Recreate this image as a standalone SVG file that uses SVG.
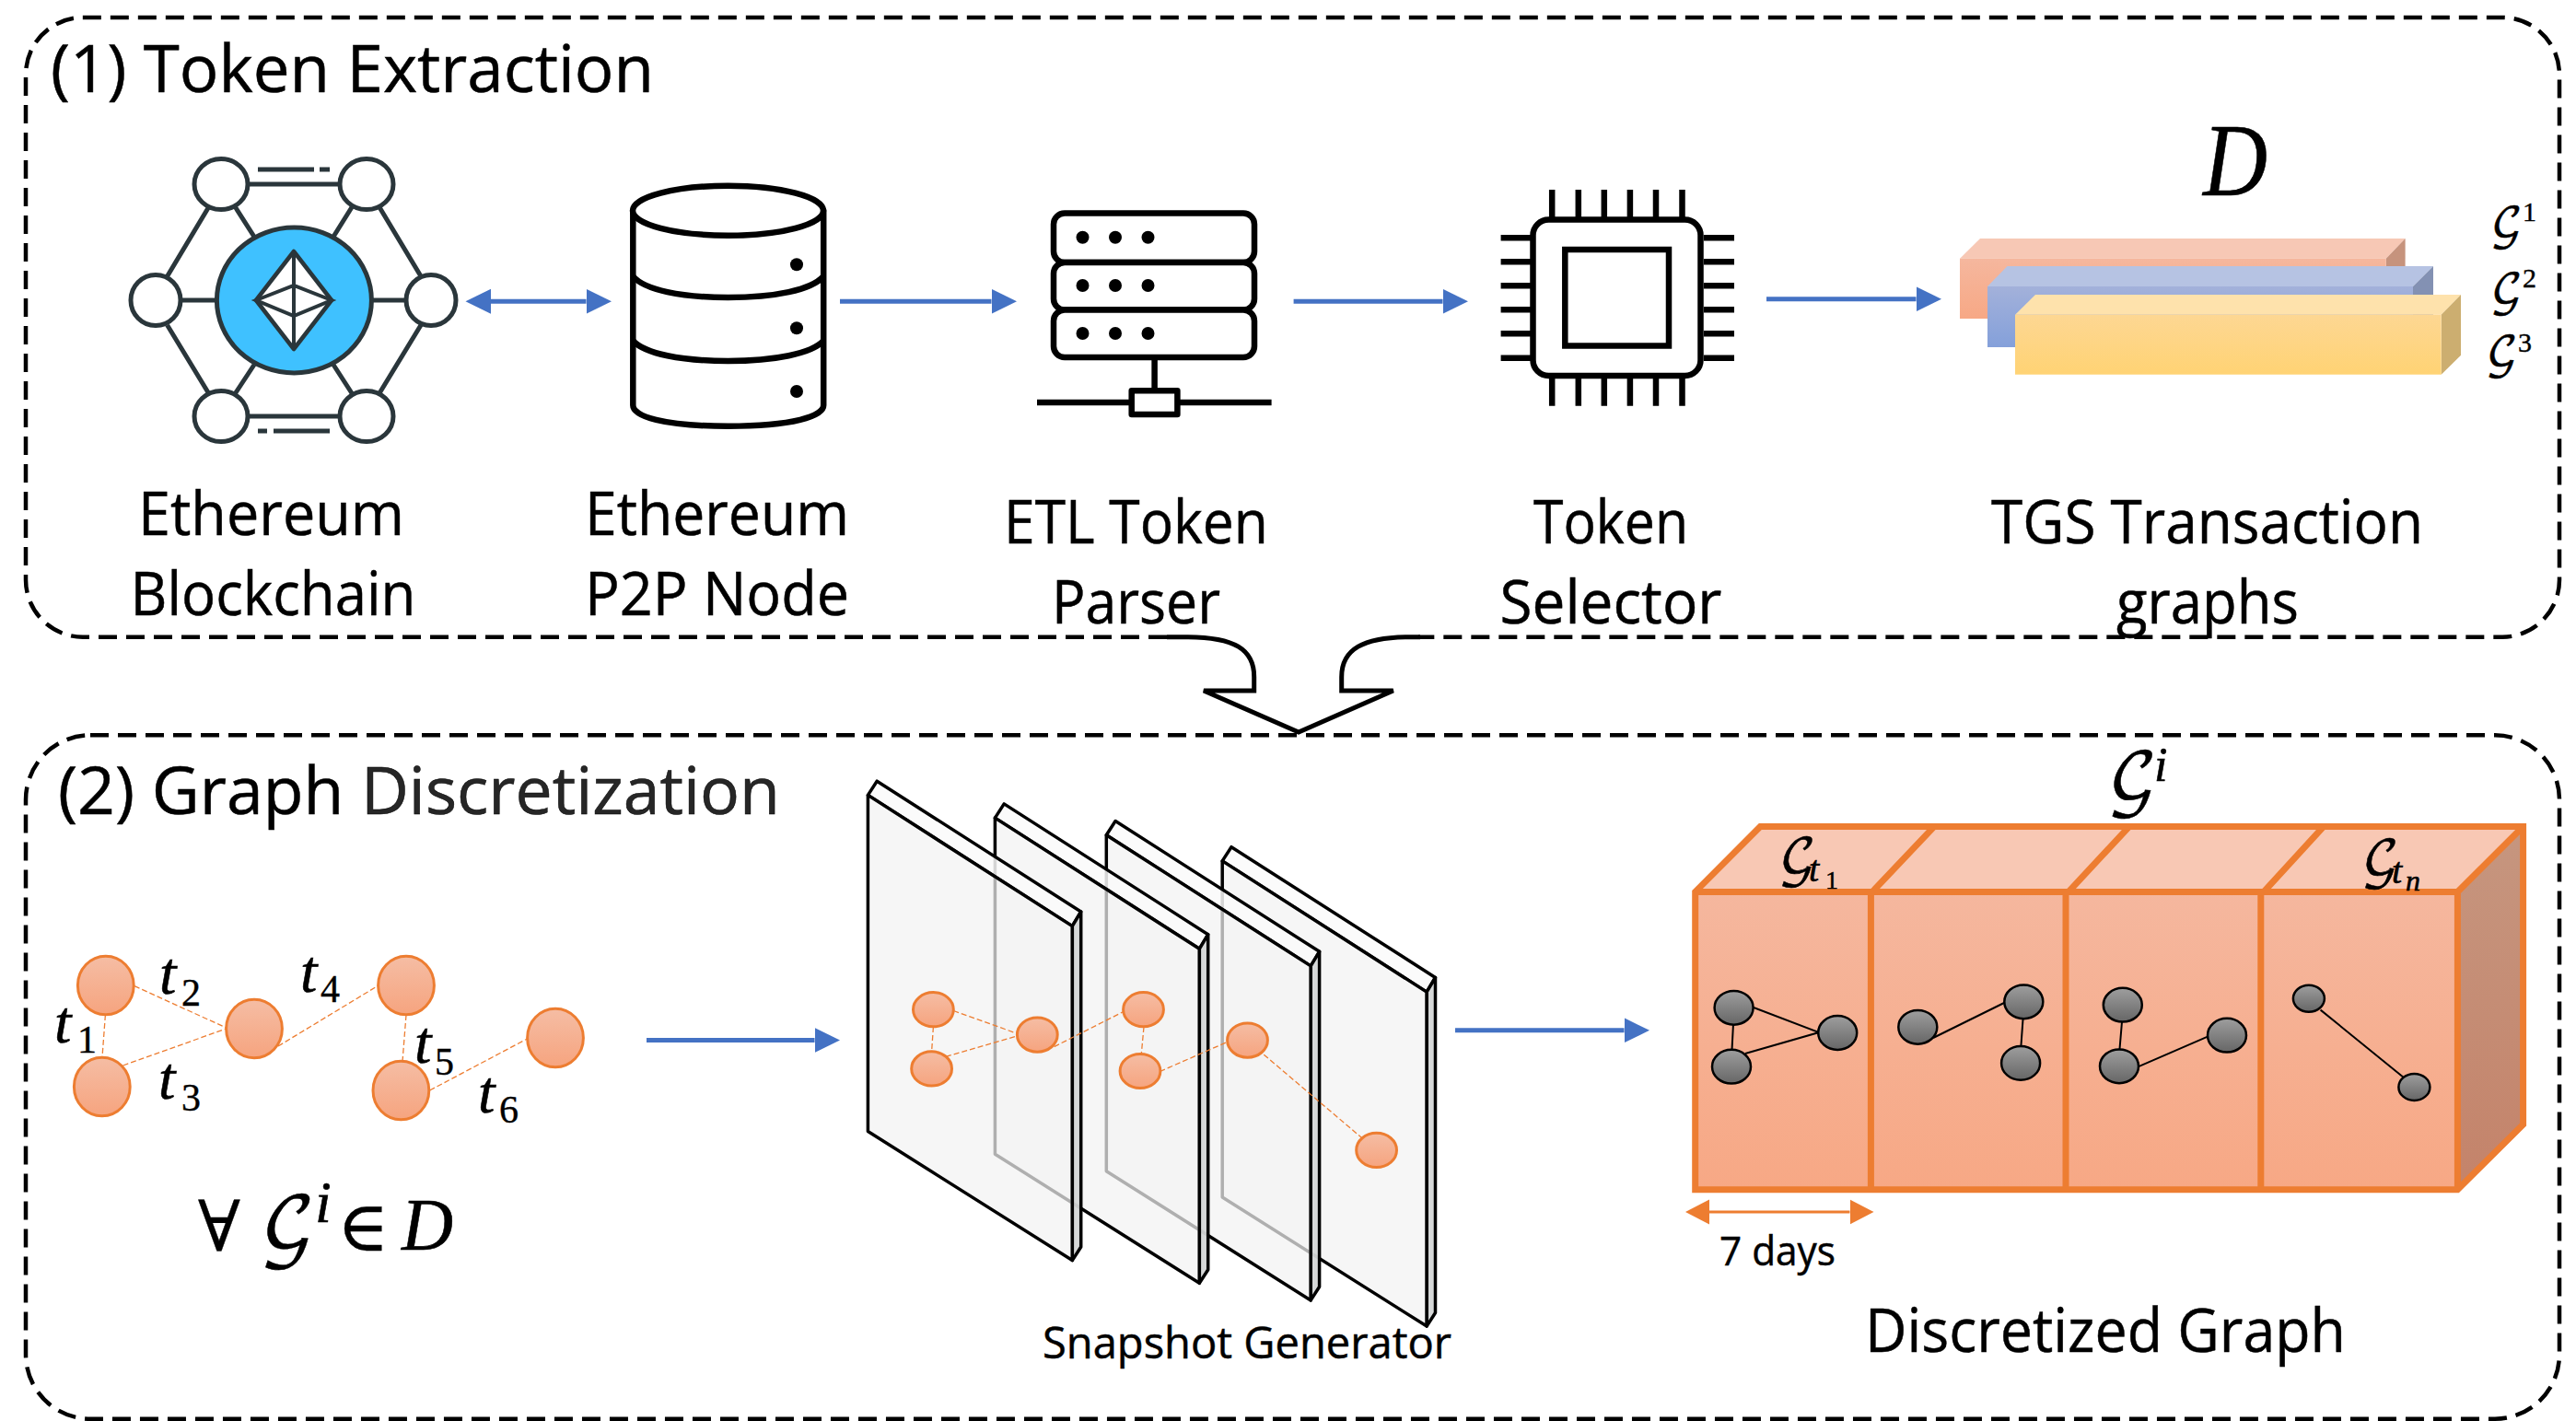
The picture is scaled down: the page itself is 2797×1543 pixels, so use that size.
<svg xmlns="http://www.w3.org/2000/svg" width="2797" height="1543" viewBox="0 0 2797 1543">
<style>
.lb{font-family:"Open Sans","Noto Sans","Liberation Sans",sans-serif;fill:#000;stroke:#000;stroke-width:.5}
.h{font-size:71px}.m{font-size:65px}
.mi{font-family:"Liberation Serif","DejaVu Serif",serif;font-style:italic;fill:#000;stroke:#000;stroke-width:.6}
.mu{font-family:"Liberation Serif","DejaVu Serif",serif;font-style:normal;fill:#000;stroke:#000;stroke-width:.4}
.sg{font-family:"DejaVu Math TeX Gyre","DejaVu Sans","Noto Sans",serif;fill:#000;stroke:#000;stroke-width:.5}
.box{fill:none;stroke:#000;stroke-width:4.5;stroke-dasharray:20 10}
.eth{stroke:#2a363b;stroke-width:5;fill:none}
.ethn{stroke:#2a363b;stroke-width:5;fill:#fff}
.ic{stroke:#000;stroke-width:6.5;fill:#fff;stroke-linejoin:round}
.icl{stroke:#000;stroke-width:6.5;fill:none}
.con{stroke:#4472C4;stroke-width:5;fill:none}
.dash{stroke:#ED7D31;stroke-width:1.3;stroke-dasharray:6 3;fill:none}
.on{fill:url(#og);stroke:#ED7D31;stroke-width:3}
.gn{fill:url(#gg);stroke:#000;stroke-width:2.5}
.ge{stroke:#000;stroke-width:2;fill:none}
.cube{stroke:#ED7D31;stroke-width:7;stroke-linejoin:miter}
</style>
<defs>
<linearGradient id="og" x1="0" y1="0" x2="0" y2="1"><stop offset="0" stop-color="#F5BDA4"/><stop offset="1" stop-color="#F6A47F"/></linearGradient>
<linearGradient id="gg" x1="0" y1="0" x2="0" y2="1"><stop offset="0" stop-color="#9E9E9E"/><stop offset="1" stop-color="#666"/></linearGradient>
<linearGradient id="pk" x1="0" y1="0" x2="0" y2="1"><stop offset="0" stop-color="#F5B79E"/><stop offset="1" stop-color="#F7A885"/></linearGradient>
<linearGradient id="bl" x1="0" y1="0" x2="0" y2="1"><stop offset="0" stop-color="#A3B1DA"/><stop offset="1" stop-color="#84A0DA"/></linearGradient>
<linearGradient id="ye" x1="0" y1="0" x2="0" y2="1"><stop offset="0" stop-color="#FDD793"/><stop offset="1" stop-color="#FFD374"/></linearGradient>
<linearGradient id="sd" x1="0" y1="0" x2="0" y2="1"><stop offset="0" stop-color="#C6967F"/><stop offset="1" stop-color="#C4836A"/></linearGradient>
<marker id="ah" markerUnits="userSpaceOnUse" markerWidth="28" markerHeight="28" refX="0" refY="14" orient="auto-start-reverse"><path d="M0 .5 27.5 14 0 27.5z" fill="#4472C4"/></marker>
<marker id="oh" markerUnits="userSpaceOnUse" markerWidth="27" markerHeight="28" refX="0" refY="14" orient="auto-start-reverse"><path d="M0 .5 26 14 0 27.5z" fill="#ED7D31"/></marker>
<g id="plane">
<path d="M942.4 863.4 952.2 848.2 1173.7 990 1164.3 1005.6z" fill="#fafafa" fill-opacity=".85" stroke="#000" stroke-width="3.5" stroke-linejoin="round"/>
<path d="M1164.3 1005.6 1173.7 990V1354L1164.3 1368.6z" fill="#d4d6d6" fill-opacity=".95" stroke="#000" stroke-width="3.5" stroke-linejoin="round"/>
<path d="M942.4 863.4 1164.3 1005.6V1368.6L942.4 1228.5z" fill="#f2f2f2" fill-opacity=".72" stroke="#000" stroke-width="3.5" stroke-linejoin="round"/>
</g>
</defs>

<g id="panel-1">
<path class="box" d="M1267 691.7H90A62 62 0 0 1 28 629.7V81A62 62 0 0 1 90 19H2717A62 62 0 0 1 2779 81V629.7A62 62 0 0 1 2717 691.7H1540"/>
<text class="lb h" x="55" y="100" textLength="655" lengthAdjust="spacingAndGlyphs">(1) Token Extraction</text>
</g>
<g id="panel-2">
<path class="box" d="M98 798.3H2709A70 70 0 0 1 2779 868.3V1470.7A70 70 0 0 1 2709 1540.7H98A70 70 0 0 1 28 1470.7V868.3A70 70 0 0 1 98 798.3z"/>
<text class="lb h" x="63" y="884" textLength="784" lengthAdjust="spacingAndGlyphs">(2) Graph <tspan fill="#262626">Discretization</tspan></text>
</g>

<g id="connectors">
<path id="flow-arrow" d="M1267 691.700H1290C1340 692 1361.700 705 1361.700 735V750H1307L1410 795 1512.700 750H1456.700V735C1456.700 705 1480 692 1530 691.700H1542" fill="none" stroke="#000" stroke-width="5" stroke-linejoin="miter"/>
<line class="con" x1="533" y1="327.3" x2="636.5" y2="327.3" marker-start="url(#ah)" marker-end="url(#ah)"/>
<line class="con" x1="912" y1="327.3" x2="1076.5" y2="327.3" marker-end="url(#ah)"/>
<line class="con" x1="1404.6" y1="327.3" x2="1566.5" y2="327.3" marker-end="url(#ah)"/>
<line class="con" x1="1918" y1="324.7" x2="2080.5" y2="324.7" marker-end="url(#ah)"/>
<line class="con" x1="702" y1="1129.5" x2="884.5" y2="1129.5" marker-end="url(#ah)"/>
<line class="con" x1="1580" y1="1118.8" x2="1763.5" y2="1118.8" marker-end="url(#ah)"/>
</g>

<g id="ethereum-blockchain">
<path class="eth" d="M240 200H398M240 452H398M226.500 225 181.600 300M412 225 457 300M181.600 353 226.500 427M412 427 457 353M255.600 225 276 257M382 225 362 257M276 396 255.600 427M362 396 382 427M197 326H234M404.600 326H439"/>
<path class="eth" d="M280 184H341M347 184H358M280 468H290M297 468H358" stroke-width="5.500"/>
<ellipse class="ethn" cx="240" cy="200" rx="29" ry="27.500"/><ellipse class="ethn" cx="398" cy="200" rx="29" ry="27.500"/>
<ellipse class="ethn" cx="169" cy="326" rx="27" ry="27.500"/><ellipse class="ethn" cx="468" cy="326" rx="27" ry="27.500"/>
<ellipse class="ethn" cx="240" cy="452" rx="29" ry="27.500"/><ellipse class="ethn" cx="398" cy="452" rx="29" ry="27.500"/>
<ellipse cx="319.400" cy="326" rx="84" ry="79" fill="#3FC1FF" stroke="#2a363b" stroke-width="5"/>
<path d="M319 273 360 326 319 379 278 326z" fill="#fff" stroke="#2a363b" stroke-width="4.500" stroke-linejoin="round"/>
<path d="M319 273V379M278 326 319 310 360 326 319 343z" fill="none" stroke="#2a363b" stroke-width="4"/>
<text class="lb m" x="150" y="581" textLength="289" lengthAdjust="spacingAndGlyphs">Ethereum</text>
<text class="lb m" x="141.500" y="668" textLength="310" lengthAdjust="spacingAndGlyphs">Blockchain</text>
</g>

<g id="ethereum-node">
<path class="ic" d="M687.300 228.700V440C687.300 452 720 462.700 790.500 462.700S894.200 452 894.200 440V228.700z"/>
<ellipse class="ic" cx="790.500" cy="228.700" rx="103.500" ry="27"/>
<path class="icl" d="M687.300 300C700 315 740 323 790.500 323S881 315 894.200 300M687.300 370C700 384 740 392 790.500 392S881 384 894.200 370"/>
<circle cx="865" cy="287.300" r="7"/><circle cx="865" cy="356.300" r="7"/><circle cx="865" cy="425" r="7"/>
<text class="lb m" x="635" y="581" textLength="287" lengthAdjust="spacingAndGlyphs">Ethereum</text>
<text class="lb m" x="635" y="668" textLength="287" lengthAdjust="spacingAndGlyphs">P2P Node</text>
</g>

<g id="etl-token-parser">
<rect class="ic" x="1144" y="231.500" width="218" height="53.500" rx="12"/>
<rect class="ic" x="1144" y="285" width="218" height="51.500" rx="12"/>
<rect class="ic" x="1144" y="336.500" width="218" height="51.500" rx="12"/>
<circle cx="1175.500" cy="257.700" r="7"/><circle cx="1211" cy="257.700" r="7"/><circle cx="1246.500" cy="257.700" r="7"/>
<circle cx="1175.500" cy="310" r="7"/><circle cx="1211" cy="310" r="7"/><circle cx="1246.500" cy="310" r="7"/>
<circle cx="1175.500" cy="362" r="7"/><circle cx="1211" cy="362" r="7"/><circle cx="1246.500" cy="362" r="7"/>
<path class="icl" d="M1253.600 391V422M1126 437H1380.600"/>
<rect class="ic" x="1228.700" y="424.300" width="49.700" height="25.700"/>
<text class="lb m" x="1090" y="590" textLength="287" lengthAdjust="spacingAndGlyphs">ETL Token</text>
<text class="lb m" x="1142" y="677" textLength="183" lengthAdjust="spacingAndGlyphs">Parser</text>
</g>

<g id="token-selector">
<path class="icl" d="M1685.200 206V236M1713.800 206V236M1741.800 206V236M1769.900 206V236M1798 206V236M1826.500 206V236M1685.200 411V440.700M1713.800 411V440.700M1741.800 411V440.700M1769.900 411V440.700M1798 411V440.700M1826.500 411V440.700M1629.600 258.300H1662M1629.600 284.300H1662M1629.600 310.300H1662M1629.600 336.300H1662M1629.600 362.300H1662M1629.600 388.700H1662M1850 258.300H1883M1850 284.300H1883M1850 310.300H1883M1850 336.300H1883M1850 362.300H1883M1850 388.700H1883"/>
<rect class="ic" x="1664.500" y="238.500" width="182" height="169.500" rx="17"/>
<rect class="ic" x="1699.300" y="271" width="112.700" height="104.500" style="stroke-linejoin:miter"/>
<text class="lb m" x="1665" y="590" textLength="168" lengthAdjust="spacingAndGlyphs">Token</text>
<text class="lb m" x="1628.500" y="677" textLength="241" lengthAdjust="spacingAndGlyphs">Selector</text>
</g>

<g id="tgs-graphs">
<path d="M2128 280.700 2150 259H2611.600L2590.800 280.700z" fill="#F7C8B5"/><path d="M2590.800 280.700 2611.600 259V324L2590.800 346z" fill="#C6937D"/><rect x="2128" y="280.700" width="462.800" height="65.300" fill="url(#pk)"/>
<path d="M2158 311 2179.500 289H2642L2620 311z" fill="#B6C3E3"/><path d="M2620 311 2642 289V355L2620 377z" fill="#8391B3"/><rect x="2158" y="311" width="462" height="66" fill="url(#bl)"/>
<path d="M2188 341.700 2210 320H2672L2650.700 341.700z" fill="#FEE2AC"/><path d="M2650.700 341.700 2672 320V385.700L2650.700 406.700z" fill="#CCAE70"/><rect x="2188" y="341.700" width="462.700" height="65" fill="url(#ye)"/>
<text class="mi" x="2392" y="212" font-size="112" textLength="70" lengthAdjust="spacingAndGlyphs">D</text>
<text class="sg" font-size="46"><tspan x="2704" y="259">𝒢</tspan><tspan class="mu" x="2739" y="240" font-size="30">1</tspan></text>
<text class="sg" font-size="46"><tspan x="2704" y="331">𝒢</tspan><tspan class="mu" x="2739" y="312" font-size="30">2</tspan></text>
<text class="sg" font-size="46"><tspan x="2699" y="399">𝒢</tspan><tspan class="mu" x="2734" y="382" font-size="30">3</tspan></text>
<text class="lb m" x="2162" y="590" textLength="469" lengthAdjust="spacingAndGlyphs">TGS Transaction</text>
<text class="lb m" x="2298" y="677" textLength="198" lengthAdjust="spacingAndGlyphs">graphs</text>
</g>

<g id="input-graph">
<path class="dash" d="M114.400 1102 111 1148M146 1070.700 245.600 1116M133.600 1157 245.600 1117M302 1136 411 1070M441 1102 437 1152.700M466.600 1184 572.400 1128"/>
<ellipse class="on" cx="114.800" cy="1070" rx="30.400" ry="31.700"/><ellipse class="on" cx="110.800" cy="1180" rx="30.400" ry="31.700"/><ellipse class="on" cx="276" cy="1117" rx="30.400" ry="31.700"/><ellipse class="on" cx="441" cy="1070" rx="30.400" ry="31.700"/><ellipse class="on" cx="435.400" cy="1184" rx="30.400" ry="31.700"/><ellipse class="on" cx="603" cy="1127" rx="30.400" ry="31.700"/>
<text class="mi" font-size="66"><tspan x="59" y="1132">t</tspan><tspan class="mu" font-size="42" x="84" y="1143">1</tspan></text>
<text class="mi" font-size="66"><tspan x="173" y="1079">t</tspan><tspan class="mu" font-size="42" x="197" y="1092">2</tspan></text>
<text class="mi" font-size="66"><tspan x="172" y="1193">t</tspan><tspan class="mu" font-size="42" x="197" y="1206">3</tspan></text>
<text class="mi" font-size="66"><tspan x="326" y="1077">t</tspan><tspan class="mu" font-size="42" x="348" y="1088">4</tspan></text>
<text class="mi" font-size="66"><tspan x="450" y="1154">t</tspan><tspan class="mu" font-size="42" x="472" y="1167">5</tspan></text>
<text class="mi" font-size="66"><tspan x="519" y="1208">t</tspan><tspan class="mu" font-size="42" x="542" y="1219">6</tspan></text>
<text class="mu" font-size="76" x="215" y="1358">∀</text>
<text class="sg" font-size="80" x="282" y="1358">𝒢</text>
<text class="mi" font-size="64" x="342" y="1327">i</text>
<text class="mu" font-size="76" x="366" y="1358">∈</text>
<text class="mi" font-size="80" x="436" y="1357" textLength="56" lengthAdjust="spacingAndGlyphs">D</text>
</g>

<g id="snapshot-generator">
<use href="#plane" transform="translate(384.800 71.500)"/>
<use href="#plane" transform="translate(258.900 43.300)"/>
<use href="#plane" transform="translate(138 24.700)"/>
<use href="#plane"/>
<path class="dash" d="M1013.400 1115 1011.600 1141.800M1035.300 1097.500 1104.500 1122.300M1027 1147.400 1104.500 1124.900M1144.600 1136.600 1220 1098.400M1242 1115 1239.300 1144.400M1259.400 1163.500 1332.600 1131.400M1372.300 1145.200 1478 1235"/>
<ellipse class="on" cx="1013.400" cy="1096.200" rx="21.900" ry="18.600"/><ellipse class="on" cx="1011.600" cy="1160.400" rx="21.900" ry="18.600"/><ellipse class="on" cx="1126.300" cy="1123.600" rx="21.900" ry="18.600"/><ellipse class="on" cx="1241.500" cy="1096.200" rx="21.900" ry="18.600"/><ellipse class="on" cx="1238" cy="1163" rx="21.900" ry="18.600"/><ellipse class="on" cx="1354.500" cy="1129.600" rx="21.900" ry="18.600"/><ellipse class="on" cx="1494.600" cy="1248.900" rx="21.900" ry="18.600"/>
<text class="lb" x="1132" y="1475" font-size="47" textLength="444" lengthAdjust="spacingAndGlyphs">Snapshot Generator</text>
</g>

<g id="discretized-graph">
<path d="M1840.700 968.400 1911.300 897.600H2739.600L2668.400 968.400z" fill="#F8C8B4"/>
<path d="M2668.400 968.400 2739.600 897.600V1221L2668.400 1291.800z" fill="url(#sd)"/>
<rect x="1840.700" y="968.400" width="827.700" height="323.400" fill="url(#pk)"/>
<path class="cube" fill="none" d="M1840.700 968.400 1911.300 897.600H2739.600V1221L2668.400 1291.800H1840.700zM1840.700 968.400H2668.400V1291.800M2668.400 968.400 2739.600 897.600M2031.400 968.400V1291.800M2243 968.400V1291.800M2454.800 968.400V1291.800M2033 968.400 2100 897.600M2246 968.400 2311.800 897.600M2458 968.400 2522.800 897.600"/>
<path class="ge" d="M1882.600 1100 1880 1150M1904 1094 1975 1121 1895 1144M2099 1127 2178 1088M2197 1100 2194.100 1140M2304.800 1100 2301 1145M2322.600 1157.800 2397.600 1125.300M2519.600 1096.600 2610.500 1170.500"/>
<ellipse class="gn" cx="1882.600" cy="1094.300" rx="21" ry="18.400"/><ellipse class="gn" cx="1880" cy="1158.200" rx="21" ry="18.400"/><ellipse class="gn" cx="1995.200" cy="1121.500" rx="21" ry="18.400"/>
<ellipse class="gn" cx="2082.300" cy="1115.300" rx="21" ry="18.400"/><ellipse class="gn" cx="2197.300" cy="1087.800" rx="21" ry="18.400"/><ellipse class="gn" cx="2194.100" cy="1154.400" rx="21" ry="18.400"/>
<ellipse class="gn" cx="2304.800" cy="1091.200" rx="21" ry="18.400"/><ellipse class="gn" cx="2301" cy="1157.800" rx="21" ry="18.400"/><ellipse class="gn" cx="2418" cy="1124.200" rx="21" ry="18.400"/>
<ellipse class="gn" cx="2506.900" cy="1084.300" rx="17" ry="14.500"/><ellipse class="gn" cx="2621.400" cy="1180.400" rx="17" ry="14.500"/>
<line x1="1856" y1="1315.900" x2="2008.500" y2="1315.900" stroke="#ED7D31" stroke-width="3" marker-start="url(#oh)" marker-end="url(#oh)"/>
<text class="sg" font-size="72" x="2288" y="870">𝒢</text><text class="mi" font-size="52" x="2339" y="848">i</text>
<text class="sg" font-size="54"><tspan x="1931" y="950">𝒢</tspan></text><text class="mi" font-size="40" x="1964" y="957">t</text><text class="mu" font-size="28" x="1982" y="965">1</text>
<text class="sg" font-size="54"><tspan x="2564" y="952">𝒢</tspan></text><text class="mi" font-size="40" x="2597" y="959">t</text><text class="mi" font-size="32" x="2612" y="967">n</text>
<text class="lb" x="1867" y="1374" font-size="43" textLength="126" lengthAdjust="spacingAndGlyphs">7 days</text>
<text class="lb m" x="2025" y="1468" textLength="522" lengthAdjust="spacingAndGlyphs">Discretized Graph</text>
</g>
</svg>
